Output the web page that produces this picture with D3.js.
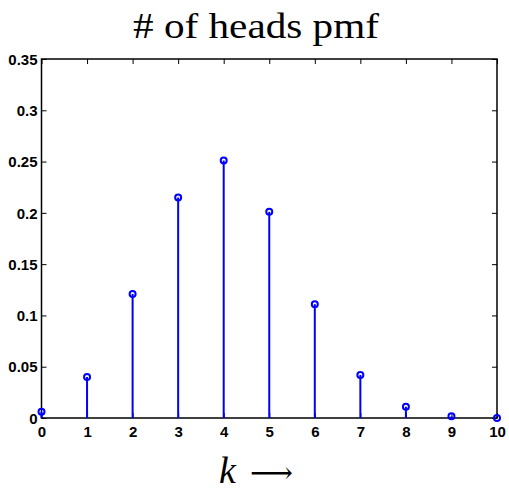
<!DOCTYPE html>
<html>
<head>
<meta charset="utf-8">
<script src="https://cdn.jsdelivr.net/npm/d3@7"></script>
<style>
  body { margin: 0; background: #fff; }
  .tick text { font-family: "Liberation Sans", Arial, sans-serif; font-weight: bold; font-size: 15px; fill: #000; }
</style>
</head>
<body>
<div id="chart"></div>
<script>
// number of heads k, and its probability
var kValues = [0, 1, 2, 3, 4, 5, 6, 7, 8, 9, 10];
var pmf = [0.006, 0.040, 0.121, 0.215, 0.251, 0.201, 0.111, 0.042, 0.011, 0.0016, 0.0001];
var yTicks = [0, 0.05, 0.1, 0.15, 0.2, 0.25, 0.3, 0.35];
var xTicks = [0, 1, 2, 3, 4, 5, 6, 7, 8, 9, 10];

var W = 509, H = 490,
    margin = {top: 59, right: 12, bottom: 72, left: 41.5},
    width = W - margin.left - margin.right,
    height = H - margin.top - margin.bottom;

var svg = d3.select("#chart").append("svg")
    .attr("width", W).attr("height", H);

var g = svg.append("g")
    .attr("transform", "translate(" + margin.left + "," + margin.top + ")");

var x = d3.scaleLinear().domain([0, 10]).range([0, width]);
var y = d3.scaleLinear().domain([0, 0.35]).range([height, 0]);

// frame
g.append("rect")
    .attr("width", width).attr("height", height)
    .attr("fill", "none").attr("stroke", "#000").attr("stroke-width", 1.5);

// axes with inward ticks
var fmt = function(d) { return d === 0 ? "0" : String(+d.toFixed(2)); };
var xAxis = g.append("g").attr("transform", "translate(0," + height + ")")
    .call(d3.axisBottom(x).tickValues(xTicks).tickSize(-5).tickPadding(7).tickFormat(d3.format("d")));
var yAxis = g.append("g")
    .call(d3.axisLeft(y).tickValues(yTicks).tickSize(-5).tickPadding(4).tickFormat(fmt));
g.append("g")
    .call(d3.axisTop(x).tickValues(xTicks).tickSize(-5).tickFormat(""));
g.append("g").attr("transform", "translate(" + width + ",0)")
    .call(d3.axisRight(y).tickValues(yTicks).tickSize(-5).tickFormat(""));
g.selectAll(".domain").remove();
g.selectAll(".tick line").attr("stroke", "#000").attr("stroke-width", 1);
xAxis.selectAll(".tick text").attr("dy", "0.8em");
yAxis.selectAll(".tick text").attr("dy", "0.35em");

// stems
var stems = kValues.map(function(k, i) { return {k: k, p: pmf[i]}; });
g.selectAll("line.stem").data(stems).enter().append("line")
    .attr("class", "stem")
    .attr("x1", function(d) { return x(d.k); })
    .attr("x2", function(d) { return x(d.k); })
    .attr("y1", y(0))
    .attr("y2", function(d) { return y(d.p); })
    .attr("stroke", "#0000ff").attr("stroke-width", 2);

g.selectAll("circle.mark").data(stems).enter().append("circle")
    .attr("class", "mark")
    .attr("cx", function(d) { return x(d.k); })
    .attr("cy", function(d) { return y(d.p); })
    .attr("r", 3)
    .attr("fill", "none").attr("stroke", "#0000ff").attr("stroke-width", 2);

// title and x label
svg.append("text")
    .attr("x", 256).attr("y", 38)
    .attr("text-anchor", "middle")
    .attr("textLength", 246).attr("lengthAdjust", "spacingAndGlyphs")
    .style("font-family", "'Liberation Serif', 'Times New Roman', serif")
    .style("font-size", "36px")
    .text("# of heads pmf");

var xl = svg.append("text")
    .attr("x", 256).attr("y", 483)
    .attr("text-anchor", "middle")
    .style("font-family", "'Liberation Serif', 'Times New Roman', serif")
    .style("font-size", "38px");
xl.append("tspan").style("font-style", "italic").text("k");
xl.append("tspan").attr("dx", 14)
    .style("font-family", "'DejaVu Serif', serif").style("font-size", "30px")
    .text("\u27F6");
</script>
</body>
</html>
